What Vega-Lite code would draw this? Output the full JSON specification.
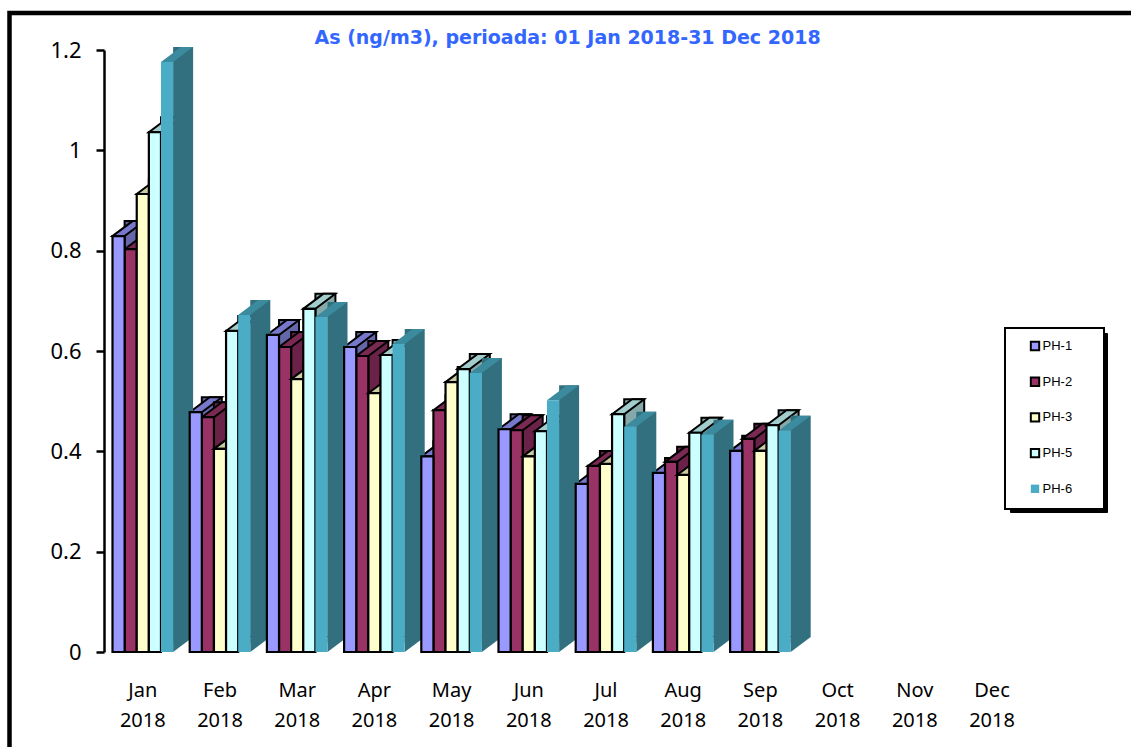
{"$schema":"https://vega.github.io/schema/vega-lite/v6.json","width":1140,"height":750,"autosize":"none","padding":{"left":9.5,"top":13,"right":0,"bottom":0},"background":"white",
"config":{"view":{"stroke":"#000","strokeWidth":4.5,"fill":"white"}},
"title":{"text":"As (ng/m3), perioada: 01 Jan 2018-31 Dec 2018","font":"DejaVu Sans","fontSize":19,"fontWeight":"bold","color":"#3366FF","anchor":"start","frame":"group","dx":305,"offset":-35},
"datasets":{"d":[
{"m":"Jan 2018","s":"PH-1","v":0.829},{"m":"Jan 2018","s":"PH-2","v":0.803},{"m":"Jan 2018","s":"PH-3","v":0.913},{"m":"Jan 2018","s":"PH-5","v":1.036},{"m":"Jan 2018","s":"PH-6","v":1.176},
{"m":"Feb 2018","s":"PH-1","v":0.478},{"m":"Feb 2018","s":"PH-2","v":0.468},{"m":"Feb 2018","s":"PH-3","v":0.405},{"m":"Feb 2018","s":"PH-5","v":0.64},{"m":"Feb 2018","s":"PH-6","v":0.672},
{"m":"Mar 2018","s":"PH-1","v":0.632},{"m":"Mar 2018","s":"PH-2","v":0.608},{"m":"Mar 2018","s":"PH-3","v":0.544},{"m":"Mar 2018","s":"PH-5","v":0.684},{"m":"Mar 2018","s":"PH-6","v":0.668},
{"m":"Apr 2018","s":"PH-1","v":0.608},{"m":"Apr 2018","s":"PH-2","v":0.59},{"m":"Apr 2018","s":"PH-3","v":0.516},{"m":"Apr 2018","s":"PH-5","v":0.592},{"m":"Apr 2018","s":"PH-6","v":0.614},
{"m":"May 2018","s":"PH-1","v":0.39},{"m":"May 2018","s":"PH-2","v":0.482},{"m":"May 2018","s":"PH-3","v":0.538},{"m":"May 2018","s":"PH-5","v":0.564},{"m":"May 2018","s":"PH-6","v":0.556},
{"m":"Jun 2018","s":"PH-1","v":0.444},{"m":"Jun 2018","s":"PH-2","v":0.442},{"m":"Jun 2018","s":"PH-3","v":0.39},{"m":"Jun 2018","s":"PH-5","v":0.44},{"m":"Jun 2018","s":"PH-6","v":0.502},
{"m":"Jul 2018","s":"PH-1","v":0.335},{"m":"Jul 2018","s":"PH-2","v":0.371},{"m":"Jul 2018","s":"PH-3","v":0.375},{"m":"Jul 2018","s":"PH-5","v":0.474},{"m":"Jul 2018","s":"PH-6","v":0.449},
{"m":"Aug 2018","s":"PH-1","v":0.357},{"m":"Aug 2018","s":"PH-2","v":0.379},{"m":"Aug 2018","s":"PH-3","v":0.353},{"m":"Aug 2018","s":"PH-5","v":0.437},{"m":"Aug 2018","s":"PH-6","v":0.433},
{"m":"Sep 2018","s":"PH-1","v":0.401},{"m":"Sep 2018","s":"PH-2","v":0.425},{"m":"Sep 2018","s":"PH-3","v":0.401},{"m":"Sep 2018","s":"PH-5","v":0.452},{"m":"Sep 2018","s":"PH-6","v":0.441}
]},
"data":{"name":"d"},
"encoding":{
"x":{"field":"m","type":"nominal","sort":null,"scale":{"type":"band","domain":["Jan 2018","Feb 2018","Mar 2018","Apr 2018","May 2018","Jun 2018","Jul 2018","Aug 2018","Sep 2018","Oct 2018","Nov 2018","Dec 2018"],"range":[94.7,1021.1],"paddingInner":0,"paddingOuter":0},"axis":{"title":null,"orient":"bottom","offset":-111,"domain":false,"ticks":false,"labelAngle":0,"labelFont":"Noto Sans","labelFontSize":20,"labelColor":"#000","labelPadding":28,"labelLineHeight":30,"labelExpr":"split(datum.value,' ')"}},
"y":{"field":"v","type":"quantitative","scale":{"domain":[0,1.2],"range":[639,37],"nice":false},"axis":{"title":null,"orient":"left","offset":-94.5,"values":[0,0.2,0.4,0.6,0.8,1,1.2],"format":"~g","grid":false,"domainColor":"#000","domainWidth":2.5,"tickColor":"#000","tickWidth":2.5,"tickSize":8,"labelFont":"Noto Sans","labelFontSize":22,"labelColor":"#000","labelPadding":15}}
},
"layer":[
{"transform":[{"filter":"datum.s=='PH-1'"}],"layer":[
{"mark":{"type":"bar","width":20,"xOffset":-8.2,"yOffset":-15,"y2Offset":-15,"fill":"#6666AA","stroke":"#000","strokeWidth":2}},
{"mark":{"type":"point","filled":true,"size":4,"opacity":1,"xOffset":-24.24,"fill":"#6666AA","strokeWidth":0,"shape":"M6.06,0L26.06,-15L6.06,-15Z"},"encoding":{"y":{"datum":0}}},
{"mark":{"type":"point","filled":true,"size":4,"opacity":1,"xOffset":-24.24,"fill":"#7777CC","stroke":"#000","strokeWidth":2,"shape":"M-6.06,0L6.06,0L26.06,-15L13.94,-15Z"}}]},
{"transform":[{"filter":"datum.s=='PH-2'"}],"layer":[
{"mark":{"type":"bar","width":20,"xOffset":3.9,"yOffset":-15,"y2Offset":-15,"fill":"#6B2248","stroke":"#000","strokeWidth":2}},
{"mark":{"type":"point","filled":true,"size":4,"opacity":1,"xOffset":-12.12,"fill":"#6B2248","strokeWidth":0,"shape":"M6.06,0L26.06,-15L6.06,-15Z"},"encoding":{"y":{"datum":0}}},
{"mark":{"type":"point","filled":true,"size":4,"opacity":1,"xOffset":-12.12,"fill":"#7A2952","stroke":"#000","strokeWidth":2,"shape":"M-6.06,0L6.06,0L26.06,-15L13.94,-15Z"}},
{"mark":{"type":"bar","strokeWidth":2.2},"encoding":{"xOffset":{"field":"s","type":"nominal","sort":null,"scale":{"type":"band","domain":["PH-1","PH-2","PH-3","PH-5","PH-6"],"paddingInner":0,"paddingOuter":0.685}},"fill":{"field":"s","type":"nominal","sort":null},"stroke":{"field":"s","type":"nominal","sort":null}}}]},
{"transform":[{"filter":"datum.s=='PH-3'"}],"layer":[
{"mark":{"type":"bar","width":20,"xOffset":16.06,"yOffset":-15,"y2Offset":-15,"fill":"#B3B38F","stroke":"#000","strokeWidth":2}},
{"mark":{"type":"point","filled":true,"size":4,"opacity":1,"xOffset":0,"fill":"#B3B38F","strokeWidth":0,"shape":"M6.06,0L26.06,-15L6.06,-15Z"},"encoding":{"y":{"datum":0}}},
{"mark":{"type":"point","filled":true,"size":4,"opacity":1,"xOffset":0,"fill":"#CCCCA3","stroke":"#000","strokeWidth":2,"shape":"M-6.06,0L6.06,0L26.06,-15L13.94,-15Z"}},
{"mark":{"type":"bar","strokeWidth":2.2},"encoding":{"xOffset":{"field":"s","type":"nominal","sort":null,"scale":{"type":"band","domain":["PH-1","PH-2","PH-3","PH-5","PH-6"],"paddingInner":0,"paddingOuter":0.685}},"fill":{"field":"s","type":"nominal","sort":null},"stroke":{"field":"s","type":"nominal","sort":null}}}]},
{"transform":[{"filter":"datum.s=='PH-5'"}],"layer":[
{"mark":{"type":"bar","width":20,"xOffset":28.2,"yOffset":-15,"y2Offset":-15,"fill":"#85A8A8","stroke":"#000","strokeWidth":2}},
{"mark":{"type":"point","filled":true,"size":4,"opacity":1,"xOffset":12.12,"fill":"#85A8A8","strokeWidth":0,"shape":"M6.06,0L26.06,-15L6.06,-15Z"},"encoding":{"y":{"datum":0}}},
{"mark":{"type":"point","filled":true,"size":4,"opacity":1,"xOffset":12.12,"fill":"#A3CCCC","stroke":"#000","strokeWidth":2,"shape":"M-6.06,0L6.06,0L26.06,-15L13.94,-15Z"}},
{"mark":{"type":"bar","strokeWidth":2.2},"encoding":{"xOffset":{"field":"s","type":"nominal","sort":null,"scale":{"type":"band","domain":["PH-1","PH-2","PH-3","PH-5","PH-6"],"paddingInner":0,"paddingOuter":0.685}},"fill":{"field":"s","type":"nominal","sort":null},"stroke":{"field":"s","type":"nominal","sort":null}}}]},
{"transform":[{"filter":"datum.s=='PH-6'"}],"layer":[
{"mark":{"type":"bar","width":20,"xOffset":40.3,"yOffset":-15,"y2Offset":-15,"fill":"#33707F"}},
{"mark":{"type":"point","filled":true,"size":4,"opacity":1,"xOffset":24.24,"fill":"#33707F","strokeWidth":0,"shape":"M6.06,0L26.06,-15L6.06,-15Z"},"encoding":{"y":{"datum":0}}},
{"mark":{"type":"point","filled":true,"size":4,"opacity":1,"xOffset":24.24,"fill":"#3C8A9E","strokeWidth":0,"shape":"M-6.06,0L6.06,0L26.06,-15L13.94,-15Z"}},
{"mark":{"type":"bar","strokeWidth":0},"encoding":{"xOffset":{"field":"s","type":"nominal","sort":null,"scale":{"type":"band","domain":["PH-1","PH-2","PH-3","PH-5","PH-6"],"paddingInner":0,"paddingOuter":0.685}},"fill":{"field":"s","type":"nominal","sort":null},"stroke":{"field":"s","type":"nominal","sort":null}}}]},
{"transform":[{"filter":"datum.s=='PH-1'"}],"mark":{"type":"bar","strokeWidth":2.2},"encoding":{"xOffset":{"field":"s","type":"nominal","sort":null,"scale":{"type":"band","domain":["PH-1","PH-2","PH-3","PH-5","PH-6"],"paddingInner":0,"paddingOuter":0.685}},"fill":{"field":"s","type":"nominal","sort":null},"stroke":{"field":"s","type":"nominal","sort":null}}},
{"transform":[{"filter":"false"}],"mark":{"type":"bar"},"encoding":{
"opacity":{"field":"s","type":"nominal","sort":null,"scale":{"type":"ordinal","domain":["PH-6","PH-5","PH-3","PH-2","PH-1"],"range":[0,0,0,0,0]},"legend":{"title":"\u2800\u2800\u2800\u2800\u2800\u2800\u2800\u2800\u2800\u2800\u2800\u2800","titleFont":"DejaVu Sans","titleOrient":"right","titleAnchor":"end","titleColor":"transparent","titleFontSize":5,"titlePadding":0,"orient":"none","legendX":1000.5,"legendY":320,"zindex":0,"fillColor":"#000","strokeColor":"#000","padding":12,"symbolOffset":12,"symbolType":"square","symbolSize":70,"rowPadding":33,"labelFont":"Liberation Sans","labelFontSize":13,"labelColor":"transparent","labelOffset":1,"labelExpr":"''"}},
"fill":{"field":"s","type":"nominal","sort":null,"scale":{"domain":["PH-1","PH-2","PH-3","PH-5","PH-6"],"range":["#9999FF","#993366","#FFFFCC","#CCFFFF","#4BACC6"]},"legend":{"title":"\u2800\u2800","titleFont":"DejaVu Sans","titleOrient":"right","titleColor":"transparent","titleFontSize":12.2,"titlePadding":0,"orient":"none","legendX":995.5,"legendY":315,"zindex":1,"fillColor":"white","strokeColor":"#000","padding":11.5,"symbolOffset":12,"symbolType":"square","symbolSize":70,"symbolStrokeWidth":2,"rowPadding":18.7,"labelFont":"Liberation Sans","labelFontSize":13,"labelColor":"#000","labelOffset":1,"encode":{"legend":{"update":{"strokeWidth":{"value":2}}}}}},
"stroke":{"field":"s","type":"nominal","sort":null,"scale":{"domain":["PH-1","PH-2","PH-3","PH-5","PH-6"],"range":["#000","#000","#000","#000","transparent"]},"legend":{"title":"\u2800\u2800","titleFont":"DejaVu Sans","titleOrient":"right","titleColor":"transparent","titleFontSize":12.2,"titlePadding":0,"orient":"none","legendX":995.5,"legendY":315,"zindex":1,"fillColor":"white","strokeColor":"#000","padding":11.5,"symbolOffset":12,"symbolType":"square","symbolSize":70,"symbolStrokeWidth":2,"rowPadding":18.7,"labelFont":"Liberation Sans","labelFontSize":13,"labelColor":"#000","labelOffset":1,"encode":{"legend":{"update":{"strokeWidth":{"value":2}}}}}}}}
],
"resolve":{"scale":{"fill":"shared","stroke":"shared"}}}
